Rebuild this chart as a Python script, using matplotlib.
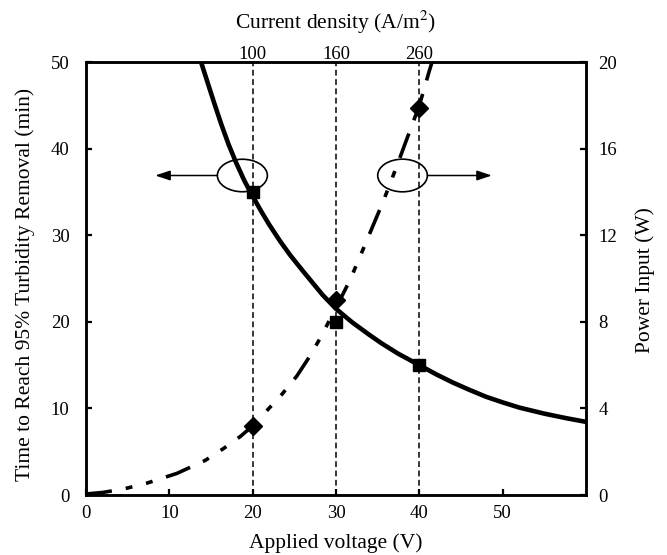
import matplotlib
matplotlib.use("Agg")
import matplotlib.pyplot as plt
from matplotlib.patches import Ellipse

plt.rcParams["font.family"] = ["Liberation Serif", "DejaVu Serif"]
plt.rcParams["mathtext.fontset"] = "stix"

# measured points
voltage = [20, 30, 40]
time_95 = [35, 20, 15]            # min, left axis
power = [3.2, 9.0, 17.9]          # W, right axis
current_density = ["100", "160", "260"]

# trend curves
time_curve_v = [13.8, 14.5, 15.3, 16.2, 17.1, 18.0, 19.0, 20.0, 21.0, 22.0, 23.3, 24.5,
                26.0, 27.2, 28.4, 30.0, 32.0, 34.0, 35.5, 37.5, 40.0, 42.0, 44.0, 46.0,
                48.0, 50.0, 52.0, 55.0, 57.5, 60.0]
time_curve_t = [50.0, 47.9, 45.5, 42.9, 40.5, 38.4, 36.3, 34.5, 32.8, 31.2, 29.3, 27.7,
                25.9, 24.5, 23.1, 21.5, 19.9, 18.5, 17.5, 16.3, 15.0, 13.95, 13.0, 12.15,
                11.35, 10.7, 10.1, 9.4, 8.9, 8.45]

power_curve_v = [0.0, 2.0, 4.5, 7.3, 10.9, 14.3, 16.5, 18.5, 20.0, 21.7, 23.5, 25.3, 27.0,
                 28.1, 30.0, 31.7, 33.3, 35.7, 37.3, 38.5, 40.0, 41.2, 41.6]
power_curve_p = [0.05, 0.12, 0.28, 0.55, 1.0, 1.6, 2.15, 2.7, 3.2, 3.9, 4.65, 5.5, 6.5,
                 7.25, 8.65, 9.95, 11.4, 13.6, 15.2, 16.45, 18.0, 19.6, 20.1]

fig = plt.figure(figsize=(6.67, 5.55), dpi=100)
ax = fig.add_axes([0.129, 0.108, 0.7496, 0.7802])
ax2 = ax.twinx()

# vertical guide lines
for v in voltage:
    ax.axvline(v, color="black", lw=1.1, linestyle=(0, (3.8, 2.3)), zorder=1)

ax.plot(time_curve_v, time_curve_t, color="black", lw=3.3, solid_joinstyle="round", zorder=3)
ax.plot(voltage, time_95, "s", color="black", ms=8.4, zorder=4)

ax2.plot(power_curve_v, power_curve_p, color="black", lw=2.6,
         linestyle=(0, (7.2, 3.9, 1.9, 3.9, 1.9, 3.9)), dash_capstyle="butt")
ax2.plot(voltage, power, "D", color="black", ms=9)

ax.set_xlim(0, 60)
ax.set_ylim(0, 50)
ax2.set_ylim(0, 20)
ax.set_xticks([0, 10, 20, 30, 40, 50])
ax.set_yticks([0, 10, 20, 30, 40, 50])
ax2.set_yticks([0, 4, 8, 12, 16, 20])

for a in (ax, ax2):
    for s in a.spines.values():
        s.set_linewidth(1.8)
ax.tick_params(axis="both", direction="in", length=4.5, width=1.6, labelsize=13.5)
ax.tick_params(axis="y", pad=12)
ax.tick_params(axis="x", pad=7)
ax2.tick_params(axis="y", direction="in", length=4.5, width=1.6, labelsize=13.5, pad=9)

# top axis labels (current density)
for v, lab in zip(voltage, current_density):
    ax.text(v, 1.006, lab, transform=ax.get_xaxis_transform(), ha="center",
            va="baseline", fontsize=13.5)

# ellipses with arrows
ax.add_patch(Ellipse((18.76, 36.9), 6.0, 3.75, fill=False, lw=1.2, color="black", zorder=5))
ax.add_patch(Ellipse((37.98, 36.9), 5.96, 3.77, fill=False, lw=1.2, color="black", zorder=5))
arrow = dict(arrowstyle="-|>,head_length=0.9,head_width=0.3", mutation_scale=10,
             color="black", lw=1.1, shrinkA=0, shrinkB=0)
ax.annotate("", xy=(8.3, 36.9), xytext=(15.76, 36.9), arrowprops=arrow)
ax.annotate("", xy=(48.7, 36.9), xytext=(40.96, 36.9), arrowprops=arrow)

fig.text(25 / 667, 0.487, "Time to Reach 95% Turbidity Removal (min)", rotation=90,
         ha="center", va="center", fontsize=15.5)
fig.text(645 / 667, 0.496, "Power Input (W)", rotation=90,
         ha="center", va="center", fontsize=15.5)
fig.text(336 / 667, 1 - 543 / 555, "Applied voltage (V)", ha="center", va="center", fontsize=15.5)
fig.text(336 / 667, 1 - 22 / 555, "Current density (A/m$^2$)", ha="center", va="center", fontsize=15.5)

fig.savefig("out.png", dpi=100)
